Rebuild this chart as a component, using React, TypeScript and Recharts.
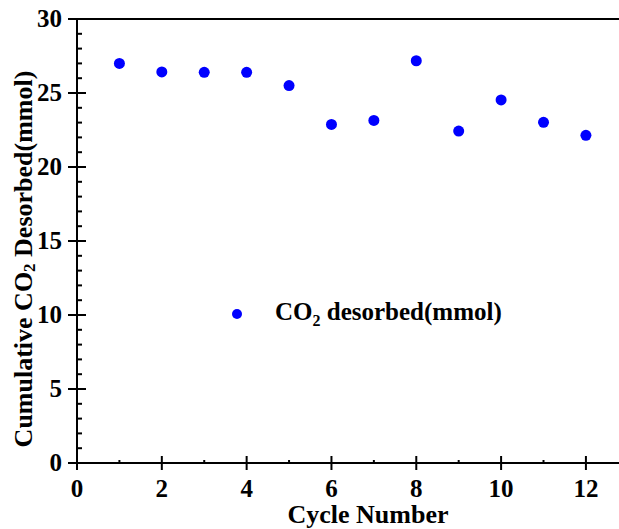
import { ScatterChart, Scatter, XAxis, YAxis, ReferenceLine } from "recharts";

const cycles = [1, 2, 3, 4, 5, 6, 7, 8, 9, 10, 11, 12];
const desorbed = [27.0, 26.42, 26.4, 26.4, 25.5, 22.88, 23.15, 27.18, 22.43, 24.53, 23.02, 22.14];
const xTicks = [0, 1, 2, 3, 4, 5, 6, 7, 8, 9, 10, 11, 12];
const yTicks = Array.from({ length: 31 }, (_, i) => i);

const FONT = '"Liberation Serif", "Times New Roman", serif';
const BLUE = "#0000ff";

const points = cycles.map((c, i) => ({ cycle: c, value: desorbed[i] }));

function XTick({ x, y, payload }: any) {
  const major = payload.value % 2 === 0;
  return (
    <g>
      <line x1={x} x2={x} y1={major ? y - 7 : y - 3} y2={major ? y + 7 : y} stroke="#000" strokeWidth={2} />
      {major && (
        <text x={x} y={y + 34} textAnchor="middle" fontFamily={FONT} fontWeight="bold" fontSize={25} fill="#000">
          {payload.value}
        </text>
      )}
    </g>
  );
}

function YTick({ x, y, payload }: any) {
  const major = payload.value % 5 === 0;
  return (
    <g>
      <line x1={major ? x - 9 : x} x2={major ? x + 9 : x + 5} y1={y} y2={y} stroke="#000" strokeWidth={2} />
      {major && (
        <text x={x - 15} y={y + 8} textAnchor="end" fontFamily={FONT} fontWeight="bold" fontSize={25} fill="#000">
          {payload.value}
        </text>
      )}
    </g>
  );
}

function YTitle({ viewBox }: any) {
  const cx = 23;
  const cy = viewBox.y + viewBox.height / 2 + 18;
  return (
    <text
      x={cx}
      y={cy}
      transform={`rotate(-90 ${cx} ${cy})`}
      textAnchor="middle"
      dominantBaseline="central"
      fontFamily={FONT}
      fontWeight="bold"
      fontSize={26}
      fill="#000"
    >
      Cumulative CO<tspan dy={6} fontSize={17}>2</tspan>
      <tspan dy={-6}> Desorbed(mmol)</tspan>
    </text>
  );
}

function XTitle({ viewBox }: any) {
  return (
    <text
      x={viewBox.x + viewBox.width / 2 + 20}
      y={523}
      textAnchor="middle"
      fontFamily={FONT}
      fontWeight="bold"
      fontSize={26}
      fill="#000"
    >
      Cycle Number
    </text>
  );
}

function LegendBox() {
  return (
    <div
      style={{
        position: "absolute",
        left: 232,
        top: 298,
        display: "flex",
        alignItems: "center",
        fontFamily: FONT,
        fontWeight: "bold",
        fontSize: 25,
        whiteSpace: "nowrap",
      }}
    >
      <span style={{ width: 10, height: 10, borderRadius: 5, background: BLUE, display: "inline-block" }} />
      <span style={{ marginLeft: 33 }}>
        CO<sub style={{ fontSize: 16 }}>2</sub> desorbed(mmol)
      </span>
    </div>
  );
}

export default function App() {
  return (
    <div style={{ position: "absolute", left: 0, top: 0, width: 619, height: 529, background: "#fff" }}>
      <ScatterChart width={619} height={529} margin={{ top: 19, right: 0, bottom: 0, left: 0 }}>
        <XAxis
          type="number"
          dataKey="cycle"
          domain={[0, 12.78]}
          ticks={xTicks}
          interval={0}
          allowDataOverflow
          height={66}
          tickSize={0}
          tickMargin={0}
          tickLine={false}
          axisLine={{ stroke: "#000", strokeWidth: 2 }}
          tick={(p: any) => <XTick {...p} />}
          label={{ content: (p: any) => <XTitle {...p} /> }}
        />
        <YAxis
          type="number"
          dataKey="value"
          domain={[0, 30]}
          ticks={yTicks}
          interval={0}
          width={77}
          tickSize={0}
          tickMargin={0}
          tickLine={false}
          axisLine={{ stroke: "#000", strokeWidth: 2 }}
          tick={(p: any) => <YTick {...p} />}
          label={{ content: (p: any) => <YTitle {...p} /> }}
        />
        <ReferenceLine y={30} stroke="#000" strokeWidth={2} />
        <Scatter
          name="CO2 desorbed(mmol)"
          data={points}
          fill={BLUE}
          isAnimationActive={false}
          shape={(p: any) => <circle cx={p.cx} cy={p.cy} r={5.5} fill={BLUE} />}
        />
      </ScatterChart>
      <LegendBox />
    </div>
  );
}
